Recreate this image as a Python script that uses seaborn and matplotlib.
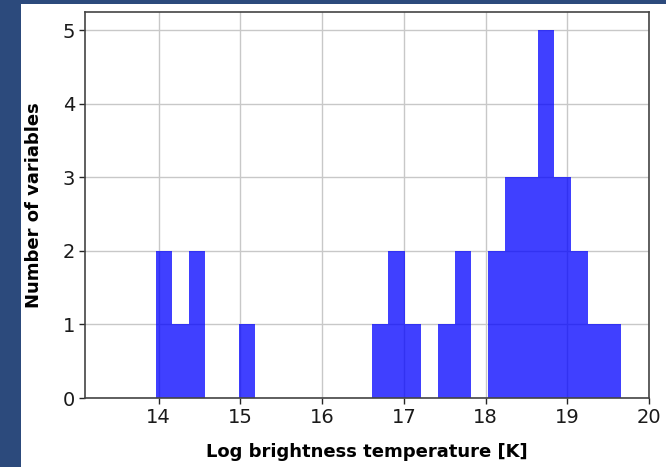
import numpy as np
import pandas as pd
import matplotlib
matplotlib.use("Agg")
import matplotlib.pyplot as plt
import seaborn as sns
from matplotlib.patches import Rectangle

# Histogram data (28 equal-width bins)
bin_start = 13.963
bin_width = 0.2033
counts = [2, 1, 2, 0, 0, 1, 0, 0, 0, 0, 0, 0, 0, 1, 2, 1, 0, 1, 2, 0,
          2, 3, 3, 5, 3, 2, 1, 1]
x_ticks = [14, 15, 16, 17, 18, 19, 20]
y_ticks = [0, 1, 2, 3, 4, 5]
x_label = "Log brightness temperature [K]"
y_label = "Number of variables"

edges = (bin_start + bin_width * np.arange(len(counts) + 1)).tolist()
centers = [(a + b) / 2 for a, b in zip(edges[:-1], edges[1:])]
df = pd.DataFrame({"logT": centers, "n": counts})

sns.set_style("whitegrid")
plt.rcParams["font.family"] = ["DejaVu Sans"]

fig = plt.figure(figsize=(6.66, 4.67), dpi=100)
fig.patch.set_facecolor("#2c4a7c")
fig.patches.append(Rectangle((21 / 666, 0), 1 - 21 / 666, 1 - 4 / 467,
                             transform=fig.transFigure, facecolor="white",
                             edgecolor="none", zorder=-10))
ax = fig.add_axes([85 / 666, 1 - 398 / 467, (649 - 85) / 666, (398 - 12) / 467])
ax.set_facecolor("white")

sns.histplot(data=df, x="logT", weights="n", bins=edges, color="blue",
             alpha=0.75, linewidth=0, ax=ax)

ax.set_xlim(13.1, 20)
ax.set_ylim(0, 5.25)
ax.set_xticks(x_ticks)
ax.set_yticks(y_ticks)
ax.grid(True, color="#c8c8c8", linewidth=1)
ax.set_axisbelow(True)
for s in ax.spines.values():
    s.set_visible(True)
    s.set_color("#444444")
    s.set_linewidth(1.2)
ax.tick_params(axis="both", labelsize=14, colors="#262626", length=4,
               width=1, left=True, bottom=True, direction="out", pad=3)
ax.tick_params(axis="both", labelcolor="#1a1a1a")
ax.set_xlabel(x_label, fontsize=13, fontweight="bold", color="black", labelpad=12)
ax.set_ylabel(y_label, fontsize=13, fontweight="bold", color="black", labelpad=14)

fig.savefig("out.png", dpi=100, facecolor=fig.get_facecolor())
